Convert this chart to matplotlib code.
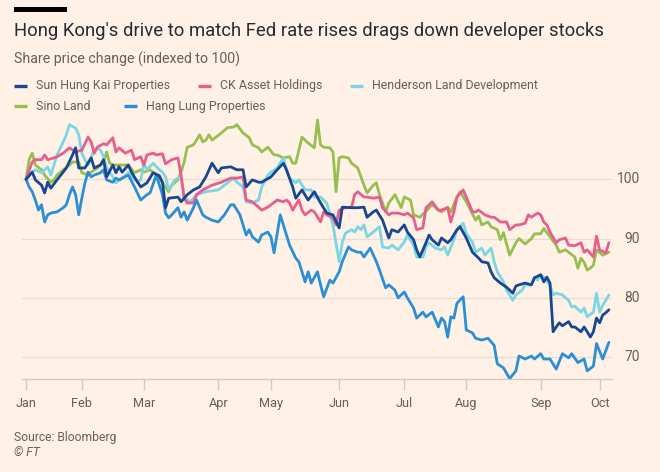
import matplotlib
matplotlib.use("Agg")
import matplotlib.pyplot as plt
from matplotlib.lines import Line2D
from matplotlib.patches import Rectangle
import matplotlib.transforms as mtransforms

plt.rcParams['font.family'] = ['Roboto', 'DejaVu Sans']

# ---------------- data ----------------
title = "Hong Kong's drive to match Fed rate rises drags down developer stocks"
subtitle = "Share price change (indexed to 100)"
source = "Source: Bloomberg"
credit = "\u00a9 FT"

month_labels = ["Jan", "Feb", "Mar", "Apr", "May", "Jun", "Jul", "Aug", "Sep", "Oct"]
month_ticks = [0, 18, 38, 62, 79, 101, 122, 142, 166, 185]   # trading-day index of month start
y_ticks = [70, 80, 90, 100]

series_names = ["Sun Hung Kai Properties", "CK Asset Holdings", "Henderson Land Development",
                "Sino Land", "Hang Lung Properties"]
series_colors = ["#17478e", "#e95d8c", "#7ad6e4", "#96bf4f", "#2a8fd6"]

# (trading day, index value)
shk = [(0,100),(2,101.2),(3,99.9),(5,99.0),(6,97.7),(7,99.5),(8,98.5),(10,99.9),(13,101.9),(15,104.1),
       (16,105.3),(17,101.9),(19,101.9),(21,103.6),(22,101.9),(24,102.4),(25,103.3),(26,100.4),(28,102.4),
       (29,101.1),(30,102.1),(31,101.2),(33,102.4),(34,101.2),(36,99.5),(37,98.7),(39,99.4),(41,101.1),
       (43,100.6),(44,99.5),(45,95.2),(46,96.8),(49,97.0),(50,96.2),(52,97.4),(54,98.2),(56,98.7),(58,100.4),
       (60,102.7),(62,101.1),(63,101.9),(66,102.1),(68,101.6),(70,101.6),(71,98.7),(73,99.9),(75,99.5),
       (76,99.5),(79,100.4),(81,101.6),(83,102.7),(84,101.6),(86,98.7),(87,96.8),(89,98.2),(91,96.5),
       (93,97.9),(95,96.0),(97,94.3),(99,94.0),(101,91.8),(102,95.3),(105,95.2),(107,95.2),(109,95.3),
       (110,93.6),(112,94.5),(113,94.8),(115,93.1),(117,90.1),(118,91.5),(120,91.1),(122,92.3),(123,91.1),
       (125,89.8),(126,88.1),(127,86.9),(129,89.3),(130,90.6),(131,89.8),(133,88.9),(134,90.1),(136,89.3),
       (137,89.8),(139,91.5),(140,92.0),(142,90.1),(143,88.9),(144,87.7),(146,86.7),(147,86.1),(149,85.9),
       (150,84.4),(151,83.4),(153,82.5),(155,81.8),(156,81.3),(157,80.8),(158,82.0),(159,82.2),(161,82.5),
       (163,82.2),(164,83.4),(166,83.9),(167,82.7),(168,83.5),(169,82.5),(170,74.3),(171,75.1),(172,75.8),
       (173,75.3),(175,76.0),(176,75.1),(177,75.1),(179,74.3),(180,75.1),(181,74.3),(182,73.4),(183,74.3),
       (184,76.6),(185,75.8),(186,77.1),(187,77.5),(188,78.0)]

ck = [(0,100),(2,102.9),(3,103.3),(5,103.3),(6,104.1),(7,103.3),(9,103.6),(10,103.8),(12,104.4),(14,105.3),
      (16,104.6),(18,104.9),(20,107.1),(21,106.3),(22,104.4),(23,105.4),(25,106.0),(26,105.8),(28,107.0),
      (29,104.6),(30,105.3),(32,104.4),(34,104.9),(35,103.3),(37,103.8),(38,102.4),(39,104.1),(41,104.4),
      (42,104.1),(44,104.3),(45,102.6),(47,103.3),(49,103.6),(50,100.7),(51,96.8),(52,96.0),(54,96.0),
      (55,97.4),(57,98.2),(60,99.0),(63,99.5),(66,100.2),(68,100.2),(70,100.4),(71,96.5),(73,96.2),
      (75,95.3),(76,94.8),(78,95.3),(79,95.7),(81,96.5),(83,96.2),(84,96.5),(85,96.0),(86,94.8),(88,96.5),
      (89,94.8),(90,94.0),(92,94.8),(93,94.5),(95,92.8),(96,94.5),(97,94.0),(99,93.5),(100,92.3),(101,94.8),
      (103,95.2),(105,95.3),(106,97.4),(107,97.9),(109,97.0),(110,97.0),(112,96.8),(114,97.0),(115,95.2),
      (117,94.0),(118,94.3),(120,94.3),(122,94.0),(123,94.3),(125,93.5),(126,91.5),(128,91.8),(129,95.2),
      (131,96.2),(133,94.8),(134,94.8),(136,95.2),(137,92.8),(138,94.5),(139,97.0),(141,98.2),(142,97.0),
      (144,94.5),(145,94.5),(146,94.8),(148,94.0),(150,93.6),(151,93.6),(153,92.8),(155,92.8),(156,91.5),
      (158,92.3),(159,92.3),(161,92.6),(162,94.0),(163,93.6),(165,94.3),(166,94.0),(167,92.8),(168,92.3),
      (169,91.1),(171,89.3),(172,89.8),(174,90.1),(175,88.9),(177,88.8),(179,89.3),(180,87.7),(181,88.1),
      (183,86.9),(184,90.4),(185,88.1),(187,87.6),(188,89.3)]

henderson = [(0,100),(2,101.2),(3,101.6),(5,101.1),(7,102.1),(8,100.7),(10,104.1),(12,106.3),(13,107.5),
             (14,109.2),(16,108.6),(17,107.5),(18,104.4),(19,103.3),(20,102.4),(22,104.9),(23,105.3),
             (24,104.9),(25,103.8),(26,101.9),(28,100.4),(29,99.4),(31,100.2),(33,101.1),(34,100.4),
             (36,99.5),(37,99.9),(38,102.7),(39,101.6),(41,102.7),(43,101.6),(44,101.2),(45,100.4),(46,98.2),
             (48,99.9),(50,100.4),(51,97.0),(53,96.2),(55,97.4),(58,97.9),(62,98.2),(65,99.4),(67,100.2),
             (68,99.5),(70,98.7),(71,96.2),(73,96.0),(75,96.5),(76,98.7),(78,100.7),(79,101.2),(81,101.9),
             (83,103.6),(84,101.6),(85,100.2),(87,99.4),(88,99.9),(90,98.2),(92,98.2),(93,97.0),(95,97.0),
             (96,96.5),(97,96.0),(99,92.3),(101,86.1),(102,89.3),(103,90.9),(105,91.5),(106,91.1),(107,92.0),
             (108,91.5),(109,92.3),(110,90.3),(112,91.1),(114,92.0),(115,88.6),(117,88.4),(118,88.9),
             (120,88.1),(122,89.4),(123,90.6),(125,88.9),(126,86.9),(128,86.9),(129,88.6),(130,89.3),
             (132,88.4),(134,88.1),(135,88.6),(136,87.2),(138,89.8),(139,91.5),(141,92.6),(142,90.9),
             (144,89.4),(145,87.7),(147,88.4),(148,87.2),(150,88.4),(151,86.1),(152,84.4),(154,82.7),
             (155,81.3),(157,79.6),(158,80.5),(160,81.3),(161,82.2),(163,82.2),(164,83.5),(165,83.0),
             (166,83.9),(167,83.5),(169,82.2),(170,80.5),(171,80.8),(173,80.5),(175,79.6),(176,78.5),
             (177,78.6),(179,77.6),(180,78.3),(181,76.8),(183,77.6),(184,80.8),(185,77.6),(186,78.8),
             (187,79.6),(188,80.5)]

sino = [(0,100),(1,103.3),(2,104.4),(3,102.4),(5,101.6),(6,100.7),(8,99.5),(9,99.9),(10,100.7),(12,101.6),
        (14,102.4),(15,102.9),(17,102.9),(18,101.1),(20,100.7),(21,101.2),(23,101.9),(25,102.9),(26,104.6),
        (27,102.7),(28,102.4),(30,102.4),(33,102.4),(35,101.1),(37,101.6),(38,101.2),(40,101.6),(42,100.7),
        (43,100.2),(44,99.4),(46,97.9),(47,99.0),(49,99.9),(50,101.2),(51,102.9),(52,105.4),(54,105.8),
        (55,106.6),(56,107.5),(57,106.3),(58,106.6),(59,107.5),(60,106.6),(63,107.8),(65,108.7),(67,108.8),
        (68,109.2),(70,107.8),(72,107.0),(73,105.8),(75,105.3),(76,104.6),(78,105.4),(80,104.1),(81,104.1),
        (83,103.6),(85,103.8),(86,102.7),(87,102.7),(88,104.9),(89,107.1),(91,106.1),(93,105.3),(94,110.0),
        (95,105.8),(96,105.4),(98,105.3),(99,104.6),(100,97.9),(101,103.6),(102,103.8),(104,103.6),
        (105,102.7),(107,101.9),(109,99.0),(110,97.7),(112,99.0),(113,99.4),(114,97.4),(116,94.5),
        (117,96.0),(119,97.4),(121,95.2),(122,97.0),(124,96.5),(125,94.0),(127,93.6),(129,94.6),(131,95.7),
        (133,94.8),(134,94.5),(136,95.3),(137,94.5),(139,97.0),(140,97.9),(142,96.2),(143,95.2),(145,93.1),
        (146,93.8),(147,92.3),(149,92.8),(150,92.0),(152,91.5),(153,89.8),(154,91.0),(156,87.2),(158,89.3),
        (159,90.0),(161,89.1),(163,90.0),(164,90.8),(166,90.8),(167,91.7),(168,91.0),(171,88.9),(172,87.7),
        (174,88.1),(175,87.7),(177,86.9),(178,85.0),(179,86.7),(180,86.0),(181,84.7),(182,85.0),(183,85.5),
        (184,88.1),(186,87.2),(188,87.7)]

hang_lung = [(0,100),(1,98.7),(2,97.9),(3,96.5),(4,94.8),(5,95.7),(6,92.8),(7,94.0),(8,94.3),(10,94.5),
             (12,95.2),(13,95.7),(14,97.4),(15,98.7),(16,97.4),(17,94.0),(18,96.8),(19,99.4),(20,101.2),
             (21,100.4),(22,100.7),(24,101.1),(25,101.6),(26,99.9),(28,99.5),(29,100.2),(30,99.9),(33,100.7),
             (35,98.7),(37,96.5),(39,97.4),(40,97.7),(42,100.7),(44,97.4),(45,94.3),(46,93.5),(47,94.0),
             (49,95.2),(50,93.6),(51,94.5),(52,93.1),(54,95.2),(55,96.5),(57,94.0),(58,93.6),(60,93.1),
             (62,92.8),(64,94.0),(66,95.7),(67,95.7),(69,94.0),(71,90.6),(72,91.5),(73,90.3),(75,89.4),
             (76,90.6),(78,91.1),(79,90.3),(80,87.6),(82,94.0),(84,90.6),(85,88.9),(87,86.7),(88,86.1),
             (90,82.7),(91,84.4),(92,82.5),(94,84.4),(95,82.2),(96,80.2),(98,83.0),(99,82.5),(101,84.4),
             (102,86.1),(104,88.6),(105,88.1),(107,87.7),(108,87.7),(109,86.9),(111,88.4),(113,86.1),
             (114,84.7),(116,81.7),(117,82.2),(119,81.3),(120,80.0),(122,81.0),(123,80.0),(125,78.3),
             (126,76.6),(128,77.6),(129,76.8),(131,77.6),(133,75.1),(134,76.6),(135,76.0),(136,73.4),
             (137,76.8),(138,76.6),(139,79.1),(141,80.2),(142,74.6),(144,74.1),(145,73.2),(147,72.9),
             (149,73.2),(151,72.0),(152,68.9),(154,68.2),(156,66.4),(158,67.7),(159,70.2),(161,69.7),
             (163,70.2),(164,69.7),(166,70.6),(167,69.7),(169,69.7),(171,68.0),(173,70.6),(175,69.9),
             (176,70.6),(178,69.1),(180,69.7),(181,67.7),(183,68.5),(184,72.3),(186,69.7),(187,71.1),
             (188,72.5)]

series_data = [shk, ck, henderson, sino, hang_lung]

# ---------------- style / layout ----------------
W, H, DPI = 660, 472, 100
BG = "#fff1e5"
GRAY = "#66605c"
DARK = "#262a33"
GRID = "#e9ddd2"
AXIS = "#d6c9be"

fig = plt.figure(figsize=(W / DPI, H / DPI), dpi=DPI, facecolor=BG)

def fx(x):
    return x / W

def fy(y):
    return 1 - y / H

ax = fig.add_axes([fx(22), fy(379), (612 - 22) / W, (379 - 114) / H])
ax.set_facecolor(BG)
ax.set_xlim(-1.3, 189.0)
ax.set_ylim(66.33, 111.0)

for v in y_ticks:
    ax.axhline(v, color=GRID, lw=0.9, zorder=1)

draw_order = [3, 2, 1, 4, 0]
for i in draw_order:
    days = [p[0] for p in series_data[i]]
    vals = [p[1] for p in series_data[i]]
    ax.plot(days, vals, color=series_colors[i], lw=2.0, solid_joinstyle="round",
            solid_capstyle="round", zorder=3 + draw_order.index(i))

for s in ["top", "right", "left"]:
    ax.spines[s].set_visible(False)
ax.spines["bottom"].set_color(AXIS)
ax.spines["bottom"].set_linewidth(1.0)
ax.set_yticks([])
ax.set_xticks(month_ticks)
ax.set_xticklabels(month_labels)
ax.tick_params(axis="x", length=8, width=1.0, color=AXIS, labelcolor=GRAY,
               labelsize=9.2, pad=5)

trans = mtransforms.blended_transform_factory(fig.transFigure, ax.transData)
for v in y_ticks:
    ax.text(fx(640), v, str(v), transform=trans, ha="right", va="center",
            color=GRAY, fontsize=10)

# header
fig.add_artist(Rectangle((fx(14), fy(12)), (67 - 14) / W, 5 / H, transform=fig.transFigure,
                         color="#000000", lw=0))
t_title = fig.text(fx(14), fy(31), title, ha="left", va="center", color=DARK, fontsize=14)
t_sub = fig.text(fx(14), fy(59), subtitle, ha="left", va="center", color=GRAY, fontsize=10)

# legend
legend_pos = [(14, 86), (198, 86), (350, 86), (14, 106), (124, 106)]
leg_texts = []
for i, (lx, ly) in enumerate(legend_pos):
    fig.add_artist(Line2D([fx(lx), fx(lx + 13)], [fy(ly), fy(ly)], color=series_colors[i],
                          lw=2.4, transform=fig.transFigure, solid_capstyle="butt"))
    leg_texts.append(fig.text(fx(lx + 22), fy(ly), series_names[i], ha="left", va="center",
                              color=GRAY, fontsize=9.5))

t_src = fig.text(fx(14), fy(437), source, ha="left", va="center", color=GRAY, fontsize=9)
t_ft = fig.text(fx(14), fy(453), credit, ha="left", va="center", color=GRAY, fontsize=9,
                style="italic")

# fit text widths to the reference
fig.canvas.draw()
r = fig.canvas.get_renderer()
def fit(t, target):
    w = t.get_window_extent(r).width
    t.set_fontsize(t.get_fontsize() * target / w)

fit(t_title, 591)
fit(t_sub, 226)
fit(leg_texts[0], 134)
for t in leg_texts[1:]:
    t.set_fontsize(leg_texts[0].get_fontsize())
fit(t_src, 103)
t_ft.set_fontsize(t_src.get_fontsize())

fig.savefig("out.png", dpi=DPI, facecolor=BG)
